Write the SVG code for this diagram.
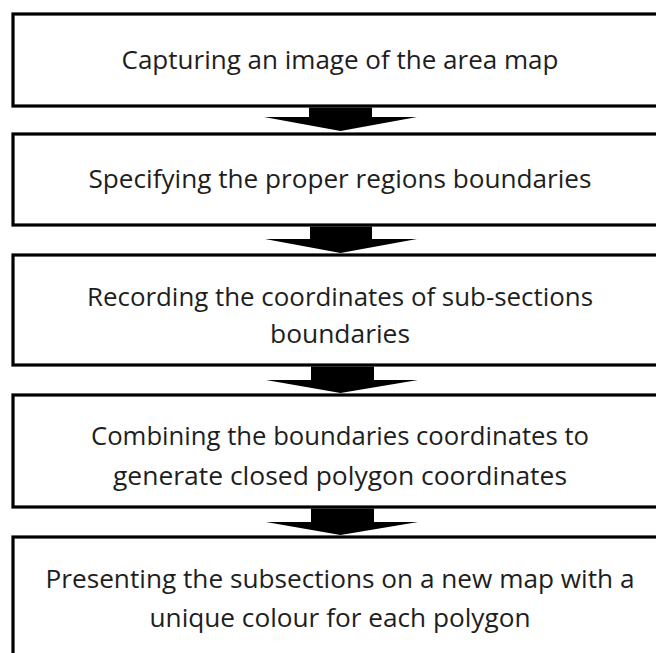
<svg xmlns="http://www.w3.org/2000/svg" width="656" height="653" viewBox="0 0 656 653">
<style>
.box{fill:#fff;stroke:#000;stroke-width:3.2}
.t{font-family:"Open Sans","Noto Sans",sans-serif;font-size:25px;fill:#1e1e1e;text-anchor:middle}
.arr{fill:#000}
</style>
<rect width="656" height="653" fill="#fff"/>
<g id="node1">
<rect class="box" x="13" y="14" width="660" height="92"/>
<text class="t" x="340" y="69" textLength="437" lengthAdjust="spacingAndGlyphs">Capturing an image of the area map</text>
</g>
<g id="node2">
<rect class="box" x="13" y="134" width="660" height="91"/>
<text class="t" x="340" y="188" textLength="503" lengthAdjust="spacingAndGlyphs">Specifying the proper regions boundaries</text>
</g>
<g id="node3">
<rect class="box" x="13" y="255" width="660" height="110"/>
<text class="t" x="340" y="306" textLength="506" lengthAdjust="spacingAndGlyphs">Recording the coordinates of sub-sections</text>
<text class="t" x="340" y="343" textLength="140" lengthAdjust="spacingAndGlyphs">boundaries</text>
</g>
<g id="node4">
<rect class="box" x="13" y="395" width="660" height="112"/>
<text class="t" x="340" y="445" textLength="498" lengthAdjust="spacingAndGlyphs">Combining the boundaries coordinates to</text>
<text class="t" x="340" y="485" textLength="454" lengthAdjust="spacingAndGlyphs">generate closed polygon coordinates</text>
</g>
<g id="node5">
<rect class="box" x="13" y="537" width="660" height="140"/>
<text class="t" x="340" y="588" textLength="589" lengthAdjust="spacingAndGlyphs">Presenting the subsections on a new map with a</text>
<text class="t" x="340" y="627" textLength="381" lengthAdjust="spacingAndGlyphs">unique colour for each polygon</text>
</g>
<g id="connectors">
<path class="arr" d="M309 107.5 H372 V117 H417 L340.5 131 L264 117 H309 Z"/>
<path class="arr" d="M310 226.5 H372 V239 H417 L340.5 253 L265 239 H310 Z"/>
<path class="arr" d="M311 366.5 H374 V380 H418 L340.5 393 L266 380 H311 Z"/>
<path class="arr" d="M311 508.5 H374 V522 H418 L340.5 535 L266 522 H311 Z"/>
</g>
</svg>
